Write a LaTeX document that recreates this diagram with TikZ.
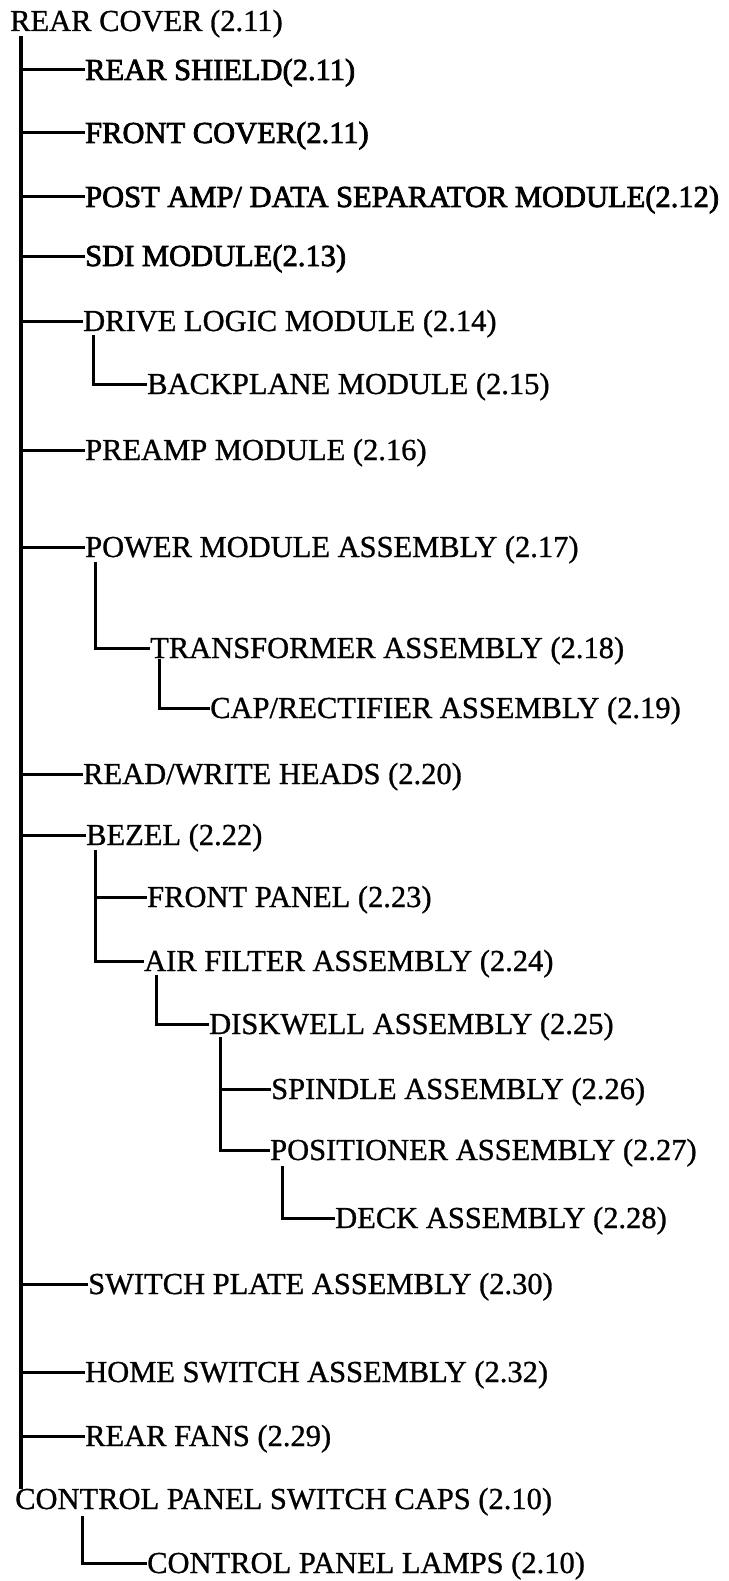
\documentclass[tikz,border=0pt]{standalone}
\usepackage{fontspec}
\setmainfont[FakeBold=0.9]{Liberation Serif}
\newfontfamily\heavyfont[FakeBold=2.4]{Liberation Serif}

\begin{document}
\begin{tikzpicture}[x=1pt, y=-1pt,
    part/.style={anchor=west, inner sep=0pt, text height=20pt, text depth=0pt, font=\fontsize{30.5}{36}\selectfont},
    heavy/.style={part, font=\fontsize{30.5}{36}\selectfont\heavyfont},
    link/.style={draw=black, line width=3pt},
    trunk/.style={draw=black, line width=3.4pt}]

\useasboundingbox (0,0) rectangle (728,1581);

% top level
\node [part] (rearcover) at (10,21) {REAR COVER (2.11)};
\node [heavy] (shield) at (85,70) {REAR SHIELD(2.11)};
\node [heavy] (frontcover) at (85,133) {FRONT COVER(2.11)};
\node [heavy] (postamp) at (85,197) {POST AMP/ DATA SEPARATOR MODULE(2.12)};
\node [heavy] (sdi) at (85,256) {SDI MODULE(2.13)};
\node [part] (drivelogic) at (83,321) {DRIVE LOGIC MODULE (2.14)};
\node [part] (backplane) at (147,384) {BACKPLANE MODULE (2.15)};
\node [part] (preamp) at (85,450) {PREAMP MODULE (2.16)};
\node [part] (power) at (85,547) {POWER MODULE ASSEMBLY (2.17)};
\node [part] (transformer) at (150,648) {TRANSFORMER ASSEMBLY (2.18)};
\node [part] (caprect) at (210,708) {CAP/RECTIFIER ASSEMBLY (2.19)};
\node [part] (heads) at (83,774) {READ/WRITE HEADS (2.20)};
\node [part] (bezel) at (86,835) {BEZEL (2.22)};
\node [part] (frontpanel) at (147,897) {FRONT PANEL (2.23)};
\node [part] (airfilter) at (144,961) {AIR FILTER ASSEMBLY (2.24)};
\node [part] (diskwell) at (209,1024) {DISKWELL ASSEMBLY (2.25)};
\node [part] (spindle) at (271,1089) {SPINDLE ASSEMBLY (2.26)};
\node [part] (positioner) at (270,1150) {POSITIONER ASSEMBLY (2.27)};
\node [part] (deck) at (335,1218) {DECK ASSEMBLY (2.28)};
\node [part] (switchplate) at (88,1284) {SWITCH PLATE ASSEMBLY (2.30)};
\node [part] (homeswitch) at (85,1372) {HOME SWITCH ASSEMBLY (2.32)};
\node [part] (rearfans) at (85,1436) {REAR FANS (2.29)};
\node [part] (swcaps) at (15,1499) {CONTROL PANEL SWITCH CAPS (2.10)};
\node [part] (lamps) at (147,1563) {CONTROL PANEL LAMPS (2.10)};

% main trunk
\coordinate (top) at ([xshift=11pt,yshift=-5pt]rearcover.south west);
\draw [trunk] (top) -- ([xshift=6pt]swcaps.north west);
\foreach \c in {shield,frontcover,postamp,sdi,drivelogic,preamp,power,heads,bezel,switchplate,homeswitch,rearfans}
  \draw [link] (top) |- (\c.west);

% sub branches
\draw [link] ([xshift=10pt,yshift=-4pt]drivelogic.south west) |- (backplane.west);
\draw [link] ([xshift=10pt,yshift=-5pt]power.south west) |- (transformer.west);
\draw [link] ([xshift=9pt,yshift=-1pt]transformer.south west) |- (caprect.west);
\draw [link] ([xshift=9pt,yshift=-5pt]bezel.south west) |- (frontpanel.west);
\draw [link] ([xshift=9pt,yshift=-5pt]bezel.south west) |- (airfilter.west);
\draw [link] ([xshift=12pt,yshift=-4pt]airfilter.south west) |- (diskwell.west);
\draw [link] ([xshift=11pt,yshift=-3pt]diskwell.south west) |- (spindle.west);
\draw [link] ([xshift=11pt,yshift=-3pt]diskwell.south west) |- (positioner.west);
\draw [link] ([xshift=12pt,yshift=-6pt]positioner.south west) |- (deck.west);
\draw [link] ([xshift=67pt,yshift=-7pt]swcaps.south west) |- (lamps.west);

\end{tikzpicture}
\end{document}
